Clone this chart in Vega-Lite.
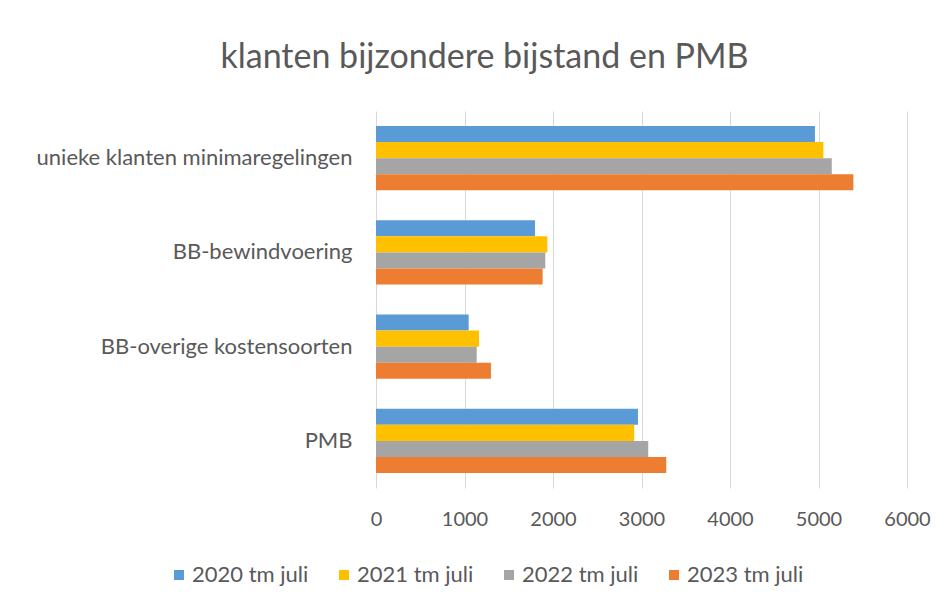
{
  "$schema": "https://vega.github.io/schema/vega-lite/v6.json",
  "width": 531,
  "height": 377,
  "autosize": "none",
  "padding": {"left": 376, "top": 111, "right": 44, "bottom": 117},
  "background": "white",
  "title": {
    "text": "klanten bijzondere bijstand en PMB",
    "font": "Lato",
    "fontSize": 34,
    "fontWeight": "normal",
    "color": "#595959",
    "anchor": "middle",
    "frame": "group",
    "dx": -157,
    "offset": 36
  },
  "data": {
    "values": [
      {"categorie": "unieke klanten minimaregelingen", "jaar": "2020 tm juli", "waarde": 4960},
      {"categorie": "unieke klanten minimaregelingen", "jaar": "2021 tm juli", "waarde": 5055},
      {"categorie": "unieke klanten minimaregelingen", "jaar": "2022 tm juli", "waarde": 5150},
      {"categorie": "unieke klanten minimaregelingen", "jaar": "2023 tm juli", "waarde": 5394},
      {"categorie": "BB-bewindvoering", "jaar": "2020 tm juli", "waarde": 1797},
      {"categorie": "BB-bewindvoering", "jaar": "2021 tm juli", "waarde": 1936},
      {"categorie": "BB-bewindvoering", "jaar": "2022 tm juli", "waarde": 1913},
      {"categorie": "BB-bewindvoering", "jaar": "2023 tm juli", "waarde": 1883},
      {"categorie": "BB-overige kostensoorten", "jaar": "2020 tm juli", "waarde": 1047},
      {"categorie": "BB-overige kostensoorten", "jaar": "2021 tm juli", "waarde": 1164},
      {"categorie": "BB-overige kostensoorten", "jaar": "2022 tm juli", "waarde": 1138},
      {"categorie": "BB-overige kostensoorten", "jaar": "2023 tm juli", "waarde": 1299},
      {"categorie": "PMB", "jaar": "2020 tm juli", "waarde": 2960},
      {"categorie": "PMB", "jaar": "2021 tm juli", "waarde": 2918},
      {"categorie": "PMB", "jaar": "2022 tm juli", "waarde": 3076},
      {"categorie": "PMB", "jaar": "2023 tm juli", "waarde": 3280}
    ]
  },
  "mark": {"type": "bar"},
  "encoding": {
    "y": {
      "field": "categorie",
      "type": "nominal",
      "sort": ["unieke klanten minimaregelingen", "BB-bewindvoering", "BB-overige kostensoorten", "PMB"],
      "scale": {"paddingInner": 0.32, "paddingOuter": 0.16},
      "axis": {
        "title": null,
        "labelFont": "Lato",
        "labelFontSize": 22,
        "labelColor": "#595959",
        "labelPadding": 24,
        "ticks": false,
        "domain": false,
        "labelLimit": 400
      }
    },
    "yOffset": {
      "field": "jaar",
      "type": "nominal",
      "sort": ["2020 tm juli", "2021 tm juli", "2022 tm juli", "2023 tm juli"]
    },
    "x": {
      "field": "waarde",
      "type": "quantitative",
      "scale": {"domain": [0, 6000], "nice": false},
      "axis": {
        "title": null,
        "values": [0, 1000, 2000, 3000, 4000, 5000, 6000],
        "format": "d",
        "grid": true,
        "gridColor": "#D9D9D9",
        "gridWidth": 1,
        "domain": false,
        "ticks": false,
        "labelFlush": false,
        "labelFont": "Lato",
        "labelFontSize": 20,
        "labelColor": "#595959",
        "labelPadding": 21
      }
    },
    "color": {
      "field": "jaar",
      "type": "nominal",
      "sort": ["2020 tm juli", "2021 tm juli", "2022 tm juli", "2023 tm juli"],
      "scale": {
        "domain": ["2020 tm juli", "2021 tm juli", "2022 tm juli", "2023 tm juli"],
        "range": ["#5B9BD5", "#FFC000", "#A5A5A5", "#ED7D31"]
      },
      "legend": {
        "title": null,
        "orient": "none",
        "direction": "horizontal",
        "legendX": -208,
        "legendY": 453,
        "symbolType": "square",
        "symbolSize": 100,
        "symbolStrokeWidth": 0,
        "labelFont": "Lato",
        "labelFontSize": 22,
        "labelColor": "#595959",
        "columnPadding": 24,
        "labelOffset": 2
      }
    }
  },
  "config": {"view": {"stroke": null}}
}
